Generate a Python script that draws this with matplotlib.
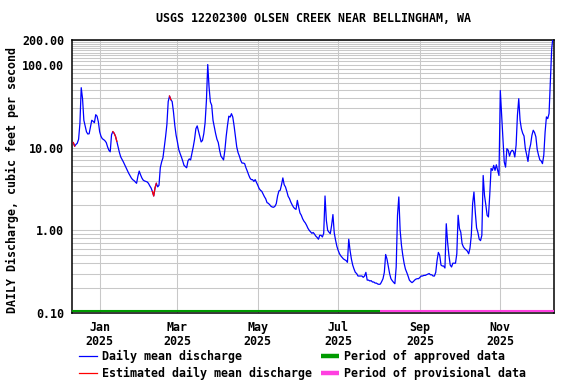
import numpy as np
import pandas as pd
import matplotlib
matplotlib.use("Agg")
import matplotlib.pyplot as plt
from matplotlib.lines import Line2D
from matplotlib.ticker import FixedLocator, NullFormatter

# ---------------- data (daily mean discharge, cfs) ----------------
start_date = "2024-12-12"
dec24 = [11.5, 10.4, 10.9, 11.3, 12.6, 19.5, 53, 39, 21.4, 18.3, 15.5, 14.6, 14.7,
         17.8, 21.4, 20.8, 20, 25, 24, 20.5]
jan25 = [15.5, 13.7, 12.8, 12.5, 12.1, 11.5, 10.2, 9.3, 8.9, 14.3, 15.6, 14.9, 13.7,
         11.9, 10.2, 8.7, 7.7, 7.2, 6.7, 6.2, 5.7, 5.3, 4.9, 4.6, 4.3, 4.1, 4.0, 3.85,
         3.7, 4.5, 5.2]
feb25 = [4.7, 4.3, 4.05, 3.95, 3.9, 3.85, 3.7, 3.45, 3.25, 2.95, 2.6, 3.25, 3.7, 3.35,
         3.5, 5.7, 6.7, 7.5, 10, 13.5, 19, 36, 42, 38, 36, 27, 18.6, 14.1]
mar25 = [11.7, 9.5, 8.5, 7.7, 6.9, 6.1, 5.9, 5.7, 6.9, 7.3, 7.1, 8.5, 10.2, 12.6, 16.9,
         18.3, 15.7, 13.5, 11.7, 12.2, 14.7, 20, 37, 101, 54, 35.7, 32.5, 21.4, 17.8,
         14.7, 12.6]
apr25 = [11.5, 9.3, 7.9, 7.5, 7.1, 9.3, 13.7, 18.6, 24, 23.4, 25.7, 23.4, 18.3, 13.5,
         10.2, 8.7, 7.9, 7.0, 6.5, 6.5, 6.4, 5.7, 5.2, 4.7, 4.3, 4.1, 4.1, 3.9, 4.1, 3.8]
may25 = [3.5, 3.2, 3.05, 2.96, 2.75, 2.55, 2.4, 2.16, 2.12, 2.04, 1.95, 1.91, 1.90,
         1.95, 2.10, 2.60, 2.99, 3.05, 3.56, 4.3, 3.56, 3.34, 2.96, 2.58, 2.42, 2.2,
         2.04, 1.91, 1.83, 1.79, 2.3]
jun25 = [1.91, 1.62, 1.52, 1.38, 1.29, 1.23, 1.15, 1.06, 1.0, 0.96, 0.92, 0.94, 0.90,
         0.85, 0.82, 0.78, 0.87, 0.87, 0.83, 0.92, 2.6, 1.32, 1.0, 0.95, 0.91, 1.15,
         1.55, 0.93, 0.76, 0.64]
jul25 = [0.57, 0.52, 0.49, 0.47, 0.45, 0.44, 0.43, 0.41, 0.78, 0.57, 0.45, 0.38, 0.34,
         0.31, 0.30, 0.28, 0.28, 0.28, 0.28, 0.27, 0.28, 0.31, 0.25, 0.25, 0.244, 0.246,
         0.237, 0.237, 0.23, 0.23, 0.224]
aug25 = [0.222, 0.224, 0.24, 0.26, 0.31, 0.51, 0.45, 0.37, 0.30, 0.26, 0.246, 0.235,
         0.226, 0.36, 1.52, 2.53, 1.0, 0.66, 0.50, 0.40, 0.34, 0.31, 0.28, 0.25, 0.24,
         0.233, 0.24, 0.25, 0.257, 0.26, 0.26]
sep25 = [0.27, 0.28, 0.28, 0.285, 0.285, 0.29, 0.296, 0.30, 0.29, 0.29, 0.28, 0.28,
         0.31, 0.43, 0.54, 0.50, 0.38, 0.37, 0.37, 0.35, 1.2, 0.72, 0.50, 0.38, 0.36,
         0.40, 0.40, 0.40, 0.52, 1.52]
oct25 = [1.05, 0.95, 0.69, 0.63, 0.60, 0.58, 0.56, 0.52, 0.61, 0.87, 2.1, 2.9, 1.67,
         1.07, 0.94, 0.78, 0.75, 0.87, 4.6, 2.65, 2.04, 1.52, 1.45, 2.7, 5.6, 5.3, 6.1,
         5.3, 6.2, 5.3, 4.6]
nov25 = [49, 24.6, 12.8, 6.7, 5.8, 9.7, 9.3, 7.9, 8.9, 9.3, 9.0, 7.7, 10.7, 24.6, 39,
         21.4, 16.9, 14.9, 13.8, 9.7, 8.2, 6.8, 9.3, 10.9, 14.1, 16.2, 15.2, 13.5, 9.5,
         8.1]
dec25 = [7.1, 6.9, 6.4, 8.1, 15.4, 23.5, 22.4, 25.8, 62, 157, 220]

# runs of estimated values (start, end)
estimated_runs = [("2024-12-12", "2024-12-13"), ("2025-01-11", "2025-01-14"),
                  ("2025-02-10", "2025-02-13"), ("2025-02-23", "2025-02-24")]

period_start = pd.Timestamp("2024-12-11")
approved_end = pd.Timestamp("2025-08-01 16:00")
period_end = pd.Timestamp("2025-12-11 12:00")

y_tick_values = [0.1, 1, 10, 100, 200]
y_tick_labels = ["0.10", "1.00", "10.00", "100.00", "200.00"]
x_tick_dates = ["2025-01-01", "2025-03-01", "2025-05-01", "2025-07-01",
                "2025-09-01", "2025-11-01"]
x_tick_labels = ["Jan\n2025", "Mar\n2025", "May\n2025", "Jul\n2025",
                 "Sep\n2025", "Nov\n2025"]

# ---------------- build ----------------
values = np.array(dec24 + jan25 + feb25 + mar25 + apr25 + may25 + jun25 + jul25 +
                  aug25 + sep25 + oct25 + nov25 + dec25, dtype=float)
dates = pd.date_range(start_date, periods=len(values), freq="D")
series = pd.Series(values, index=dates)

FONT = "DejaVu Sans Mono"
FS = 8.4
plt.rcParams["font.family"] = [FONT, "DejaVu Sans"]
plt.rcParams["font.weight"] = "bold"

BLUE = "#0000ff"
RED = "#ff0000"
GREEN = "#009a00"
MAGENTA = "#ff40e0"
GRID = "#c8c8c8"

fig = plt.figure(figsize=(5.76, 3.84), dpi=100)
ax = fig.add_axes([72 / 576, 1 - 313 / 384, (554 - 72) / 576, (313 - 40) / 384])
ax.set_yscale("log")
ax.set_ylim(0.1, 200)
ax.set_xlim(pd.Timestamp("2024-12-11"), pd.Timestamp("2025-12-11 18:00"))

# grid
minor = [m * 10.0 ** e for e in (-1, 0, 1) for m in range(2, 10)] + list(range(110, 200, 10))
ax.yaxis.set_minor_locator(FixedLocator(minor))
ax.yaxis.set_minor_formatter(NullFormatter())
ax.yaxis.set_major_locator(FixedLocator(y_tick_values))
ax.set_yticklabels(y_tick_labels)
ax.set_xticks(pd.to_datetime(x_tick_dates))
ax.set_xticklabels(x_tick_labels, linespacing=1.1)
ax.grid(True, which="both", axis="y", color=GRID, lw=0.75, zorder=0)
ax.grid(True, which="major", axis="x", color=GRID, lw=0.75, zorder=0)
ax.set_axisbelow(True)
ax.tick_params(axis="both", which="both", length=0, labelsize=FS)
ax.tick_params(axis="y", pad=5.8)
ax.tick_params(axis="x", pad=5.5)
for lab in ax.get_xticklabels() + ax.get_yticklabels():
    lab.set_fontweight("bold")
    lab.set_fontfamily(FONT)

for sp in ax.spines.values():
    sp.set_linewidth(1.1)
    sp.set_color("black")

# data lines
ax.plot(series.index, series.values, color=BLUE, lw=0.9, zorder=3)
for a, b in estimated_runs:
    seg = series[a:b]
    ax.plot(seg.index, seg.values, color=RED, lw=0.9, zorder=4)

# approval period bars
tr = ax.get_xaxis_transform()
ax.plot([period_start, approved_end], [0.006, 0.006], transform=tr,
        color=GREEN, lw=1.5, solid_capstyle="butt", zorder=5, clip_on=False)
ax.plot([approved_end, period_end], [0.006, 0.006], transform=tr,
        color=MAGENTA, lw=1.5, solid_capstyle="butt", zorder=5, clip_on=False)

# texts
fig.text(313 / 576, 1 - 19 / 384, "USGS 12202300 OLSEN CREEK NEAR BELLINGHAM, WA",
         ha="center", va="center", fontsize=FS, fontweight="bold", family=FONT)
fig.text(12 / 576, 1 - 180 / 384, "DAILY Discharge, cubic feet per second",
         ha="center", va="center", rotation=90, fontsize=FS, fontweight="bold",
         family=FONT)

handles = [Line2D([], [], color=BLUE, lw=0.9),
           Line2D([], [], color=RED, lw=0.9),
           Line2D([], [], color=GREEN, lw=3.2, solid_capstyle="butt"),
           Line2D([], [], color=MAGENTA, lw=3.2, solid_capstyle="butt")]
labels = ["Daily mean discharge", "Estimated daily mean discharge",
          "Period of approved data", "Period of provisional data"]
leg = fig.legend(handles, labels, loc="upper left", bbox_to_anchor=(79 / 576, 1 - 350 / 384),
                 ncol=2, frameon=False, borderpad=0, borderaxespad=0,
                 handlelength=1.5, handletextpad=0.5, columnspacing=0.75,
                 labelspacing=0.3, prop={"family": FONT, "weight": "bold", "size": FS})

fig.savefig("out.png", dpi=100)
